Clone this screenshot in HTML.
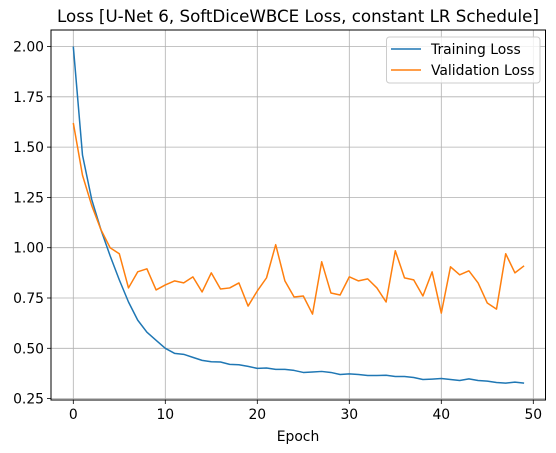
<!DOCTYPE html>
<html><head><meta charset="utf-8"><style>
body{margin:0;background:#fff;font-family:"DejaVu Sans","Liberation Sans",sans-serif}
</style></head><body>
<svg id="chart" width="556" height="453" style="display:block;font-family:'DejaVu Sans','Liberation Sans',sans-serif">
<text x="298" y="22" font-size="16.7" text-anchor="middle">Loss [U-Net 6, SoftDiceWBCE Loss, constant LR Schedule]</text>
<g id="grid"></g><g id="ticks"></g><g id="series"></g>
<rect x="51" y="30" width="494.5" height="370" fill="none" stroke="#000" stroke-width="1"/>
<text x="298" y="441" font-size="13.9" text-anchor="middle">Epoch</text>
<g>
<rect x="386.5" y="37" width="153.5" height="46" rx="3" fill="#fff" fill-opacity="0.8" stroke="#ccc"/>
<line x1="391" y1="49" x2="421" y2="49" stroke="#1f77b4" stroke-width="1.5"/>
<text x="431" y="54" font-size="13.9">Training Loss</text>
<line x1="391" y1="70" x2="421" y2="70" stroke="#ff7f0e" stroke-width="1.5"/>
<text x="431" y="75" font-size="13.9">Validation Loss</text>
</g>
</svg>
<script>
const trainLoss=[2.00,1.46,1.24,1.09,0.96,0.84,0.73,0.64,0.58,0.54,0.50,0.475,0.47,0.455,0.44,0.433,0.432,0.42,0.418,0.41,0.40,0.402,0.395,0.395,0.39,0.38,0.382,0.385,0.38,0.37,0.373,0.37,0.365,0.365,0.366,0.36,0.36,0.355,0.345,0.347,0.35,0.345,0.34,0.348,0.34,0.337,0.33,0.327,0.332,0.327];
const valLoss=[1.62,1.36,1.21,1.09,1.00,0.97,0.80,0.88,0.895,0.79,0.815,0.835,0.825,0.855,0.78,0.875,0.795,0.80,0.825,0.71,0.785,0.85,1.015,0.835,0.755,0.76,0.67,0.93,0.775,0.765,0.855,0.835,0.845,0.80,0.73,0.985,0.85,0.84,0.76,0.88,0.675,0.905,0.865,0.885,0.825,0.725,0.695,0.97,0.875,0.91];
const xTicks=[0,10,20,30,40,50];
const yTicks=[0.25,0.50,0.75,1.00,1.25,1.50,1.75,2.00];
const NS="http://www.w3.org/2000/svg";
const xS=v=>73.3+v*9.2;
const yS=v=>398.6-(v-0.25)*201.2;
function mk(tag,attrs,parent){const e=document.createElementNS(NS,tag);for(const k in attrs)e.setAttribute(k,attrs[k]);document.getElementById(parent).appendChild(e);return e;}
xTicks.forEach(t=>{
 const g=mk('line',{x1:xS(t),x2:xS(t),y1:30,y2:400,stroke:'#b0b0b0','stroke-width':0.8},'grid');
 
 
 const k=mk('line',{x1:xS(t),x2:xS(t),y1:400,y2:404,stroke:'#000','stroke-width':0.8},'ticks');
 
 
 const l=mk('text',{x:xS(t),y:419,'font-size':13.9,'text-anchor':'middle'},'ticks');
 l.textContent=t;
 
 
});
yTicks.forEach(t=>{
 const g=mk('line',{x1:51,x2:545,y1:yS(t),y2:yS(t),stroke:'#b0b0b0','stroke-width':0.8},'grid');
 
 
 const k=mk('line',{x1:47,x2:51,y1:yS(t),y2:yS(t),stroke:'#000','stroke-width':0.8},'ticks');
 
 
 const l=mk('text',{x:44,y:yS(t)+5,'font-size':13.9,'text-anchor':'end'},'ticks');
 l.textContent=t.toFixed(2);
 
 
});
function line(data,color,name){
 const p=mk('polyline',{points:data.map((v,i)=>xS(i)+','+yS(v)).join(' '),fill:'none',stroke:color,'stroke-width':1.5,'stroke-linejoin':'round'},'series');
 
 
}
line(trainLoss,'#1f77b4','training-loss-line');
line(valLoss,'#ff7f0e','validation-loss-line');
</script>
</body></html>
